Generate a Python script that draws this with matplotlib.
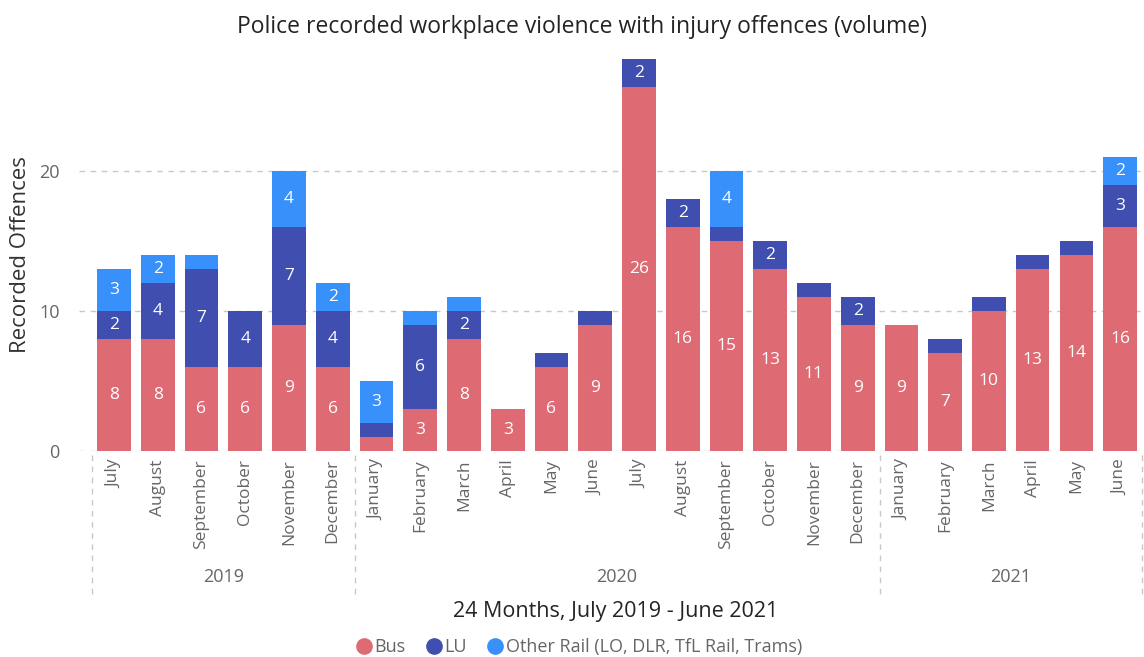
import matplotlib
matplotlib.use("Agg")
import matplotlib.pyplot as plt
from matplotlib.lines import Line2D
import numpy as np

months = ["July", "August", "September", "October", "November", "December",
          "January", "February", "March", "April", "May", "June",
          "July", "August", "September", "October", "November", "December",
          "January", "February", "March", "April", "May", "June"]
years = ["2019", "2020", "2021"]
year_spans = [(0, 5), (6, 17), (18, 23)]

bus = [8, 8, 6, 6, 9, 6, 1, 3, 8, 3, 6, 9, 26, 16, 15, 13, 11, 9, 9, 7, 10, 13, 14, 16]
lu = [2, 4, 7, 4, 7, 4, 1, 6, 2, 0, 1, 1, 2, 2, 1, 2, 1, 2, 0, 1, 1, 1, 1, 3]
other = [3, 2, 1, 0, 4, 2, 3, 1, 1, 0, 0, 0, 0, 0, 4, 0, 0, 0, 0, 0, 0, 0, 0, 2]

series_names = ["Bus", "LU", "Other Rail (LO, DLR, TfL Rail, Trams)"]
colors = ["#DE6A73", "#404FAF", "#3890FA"]

plt.rcParams['font.family'] = ['Open Sans', 'DejaVu Sans']

W, H = 1144, 657
fig = plt.figure(figsize=(W / 100, H / 100), dpi=100)
# pixel mapping: x=-0.8 -> 79px, x=23.5 -> 1142px ; y=0 -> 451px, y=28 -> 59px
ax = fig.add_axes([79 / W, 1 - 451 / H, (1142 - 79) / W, (451 - 59) / H])
ax.set_xlim(-0.8, 23.5)
ax.set_ylim(0, 28)

x = np.arange(len(months))
width = 0.77
bottom = np.zeros(len(months))
for vals, col in zip([bus, lu, other], colors):
    v = np.array(vals, dtype=float)
    ax.bar(x, v, width, bottom=bottom, color=col, zorder=3, linewidth=0)
    for xi, vi, bi in zip(x, v, bottom):
        if vi >= 2:
            ax.text(xi, bi + vi / 2, f"{int(vi)}", ha="center", va="center",
                    color="white", fontsize=12.5, zorder=4)
    bottom += v

for yv in [0, 10, 20]:
    ax.axhline(yv, color="#C8C8C8", linestyle=(0, (4, 4)), linewidth=1, zorder=1)

for s in ax.spines.values():
    s.set_visible(False)
ax.set_yticks([0, 10, 20])
ax.set_yticklabels(["0", "10", "20"], color="#666666", fontsize=13)
ax.tick_params(axis="y", length=0, pad=14)
ax.set_xticks(x)
ax.set_xticklabels(months, rotation=90, color="#666666", fontsize=12.5)
ax.tick_params(axis="x", length=0, pad=6)

ax.set_ylabel("Recorded Offences", fontsize=16, color="#333333", labelpad=6)

# year dividers and labels
trans = ax.get_xaxis_transform()
for d in [-0.5, 5.5, 17.5, 23.5]:
    ax.plot([d, d], [-0.01, -0.37], transform=trans, color="#C8C8C8",
            linestyle=(0, (4, 4)), linewidth=1, clip_on=False)
for yr, (a, b) in zip(years, year_spans):
    ax.text((a + b) / 2, -0.322, yr, transform=trans, ha="center", va="center",
            color="#666666", fontsize=13)

fig.text(616 / W, 1 - 612 / H, "24 Months, July 2019 - June 2021", ha="center",
         va="center", fontsize=15.5, color="#252423")
fig.text(582 / W, 1 - 27 / H, "Police recorded workplace violence with injury offences (volume)",
         ha="center", va="center", fontsize=16.5, color="#252423")

handles = [Line2D([0], [0], marker="o", linestyle="", markersize=11,
                  markerfacecolor=c, markeredgecolor=c) for c in colors]
fig.legend(handles, series_names, loc="center", bbox_to_anchor=(576 / W, 1 - 647 / H),
           ncol=3, frameon=False, fontsize=13, handletextpad=-0.15, columnspacing=0.8,
           labelcolor="#666666", borderaxespad=0, handlelength=1.5)

fig.savefig("out.png", dpi=100)
